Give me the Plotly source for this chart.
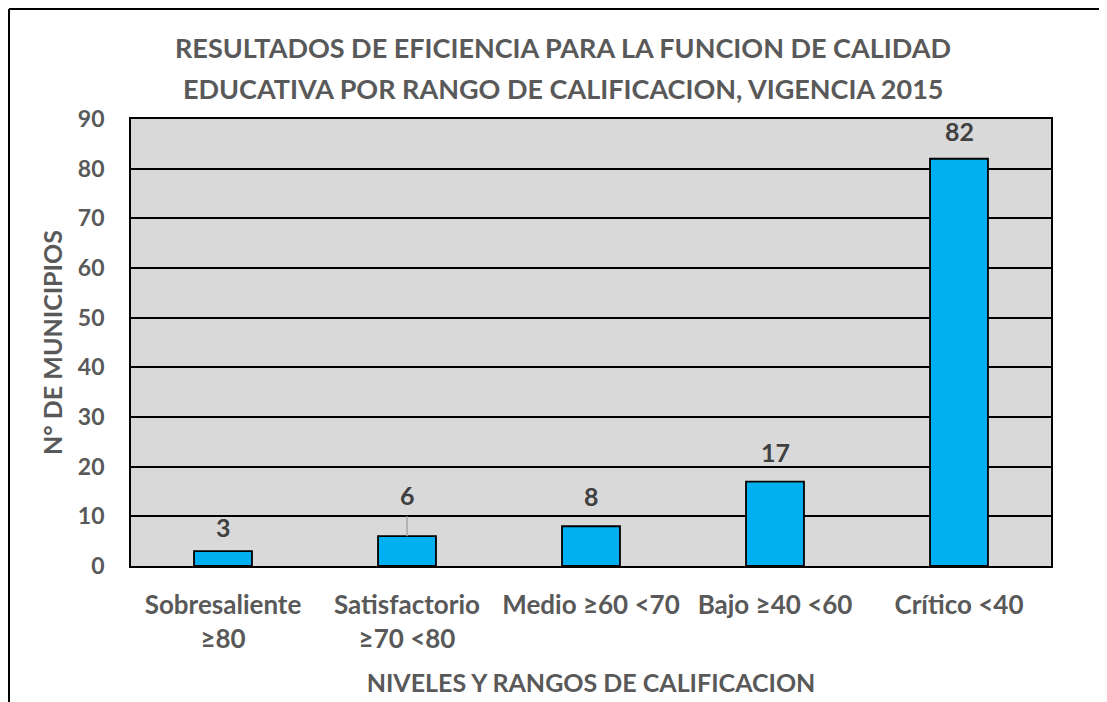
import plotly.graph_objects as go

categories = ["Sobresaliente<br>≥80", "Satisfactorio<br>≥70 <80", "Medio ≥60 <70", "Bajo ≥40 <60", "Crítico <40"]
values = [3, 6, 8, 17, 82]
title_lines = ["RESULTADOS DE EFICIENCIA PARA LA FUNCION DE CALIDAD",
               "EDUCATIVA POR RANGO DE CALIFICACION, VIGENCIA 2015"]
y_title = "N° DE MUNICIPIOS"
x_title = "NIVELES Y RANGOS DE CALIFICACION"
y_ticks = [0, 10, 20, 30, 40, 50, 60, 70, 80, 90]

FONT = "Lato"
GREY = "#595959"

# plot area in screen pixels (page has an 8px body margin)
PL, PR, PT, PB = 131, 1051, 119, 566
PW, PH = PR - PL, PB - PT

fig = go.Figure()
fig.add_trace(go.Bar(
    x=categories, y=values,
    marker=dict(color="#00b0f0", line=dict(color="black", width=1.8)),
    hoverinfo="skip",
))

# data labels
shifts = [24, 41, 30, 30, 28]
for c, v, s in zip(categories, values, shifts):
    fig.add_annotation(x=c, y=v, text=f"<b>{v}</b>", showarrow=False, yshift=s,
                       font=dict(family=FONT, size=25, color="#404040"))
# leader line for the moved label
fig.add_shape(type="line", xref="x", yref="y", x0=categories[1], x1=categories[1],
              y0=values[1], y1=values[1] + 4, line=dict(color="#a6a6a6", width=1.5))

# title lines
for i, t in enumerate(title_lines):
    fig.add_annotation(xref="paper", yref="paper", x=(563 - PL) / PW, y=(PB - 47 - 41 * i) / PH,
                       text=f"<b>{t}</b>", showarrow=False, xanchor="center", yanchor="middle",
                       font=dict(family=FONT, size=27, color=GREY))

# chart frame
fy = (PB - 9) / PH
fx = (9 - PL) / PW
fig.add_shape(type="line", xref="paper", yref="paper", x0=fx, x1=1.2, y0=fy, y1=fy,
              line=dict(color="black", width=2))
fig.add_shape(type="line", xref="paper", yref="paper", x0=fx, x1=fx, y0=fy, y1=-0.5,
              line=dict(color="black", width=2))

fig.update_layout(
    width=1107, height=702,
    margin=dict(l=PL - 8, r=1107 - (PR - 8), t=PT - 8, b=702 - (PB - 8)),
    paper_bgcolor="white", plot_bgcolor="#d9d9d9",
    bargap=0.685, showlegend=False,
    font=dict(family=FONT, color=GREY),
)
fig.update_xaxes(
    tickfont=dict(family=FONT, size=26, color=GREY),
    ticktext=[f"<b>{c}</b>" for c in categories], tickvals=categories,
    showline=True, linecolor="black", linewidth=1.8, mirror=True,
    ticks="outside", ticklen=15, tickcolor="rgba(0,0,0,0)",
    title=dict(text=f"<b>{x_title}</b>", font=dict(family=FONT, size=25, color=GREY), standoff=22),
)
fig.update_yaxes(
    range=[0, 90], tickvals=y_ticks, ticktext=[f"<b>{t}</b>" for t in y_ticks],
    tickfont=dict(family=FONT, size=23, color=GREY),
    showgrid=True, gridcolor="black", gridwidth=1.5,
    showline=True, linecolor="black", linewidth=1.8, mirror=True,
    ticks="outside", ticklen=20, tickcolor="rgba(0,0,0,0)",
    zeroline=False,
    title=dict(text=f"<b>{y_title}</b>", font=dict(family=FONT, size=25, color=GREY), standoff=8),
)

fig.write_html("out.html")
